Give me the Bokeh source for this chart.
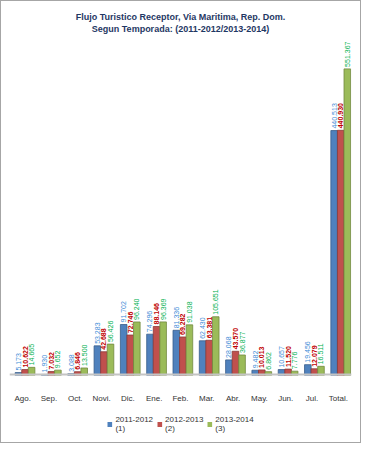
import math
from bokeh.plotting import figure
from bokeh.layouts import column
from bokeh.models import ColumnDataSource, FactorRange, Range1d, Span, Legend, LegendItem, Title
from bokeh.transform import dodge
from bokeh.core.properties import value
from bokeh.embed import file_html
from bokeh.resources import INLINE

categories = ["Ago.", "Sep.", "Oct.", "Novi.", "Dic.", "Ene.", "Feb.", "Mar.",
              "Abr.", "May.", "Jun.", "Jul.", "Total."]
season_2011 = [5173, 1930, 3088, 53283, 91702, 74296, 81336, 62430, 28068, 9482, 10657, 19456, 440513]
season_2012 = [10622, 7032, 6846, 42688, 72746, 88146, 69282, 63381, 43570, 10013, 11520, 12079, 440930]
season_2013 = [14665, 9652, 13500, 56426, 96240, 96369, 91038, 105651, 36877, 6862, 7776, 16511, 551367]
series_names = ["2011-2012\n(1)", "2012-2013\n(2)", "2013-2014\n(3)"]


def fmt(v):
    return f"{v:,}".replace(",", ".")


src = ColumnDataSource(data=dict(
    cat=categories,
    a=season_2011, b=season_2012, c=season_2013,
    la=[fmt(v) for v in season_2011],
    lb=[fmt(v) for v in season_2012],
    lc=[fmt(v) for v in season_2013],
))

xr = FactorRange(*categories, range_padding=0)
p = figure(x_range=xr, y_range=Range1d(0, 615000),
           width=359, height=404, output_backend="svg", toolbar_location=None,
           min_border_left=2, min_border_right=9, min_border_top=32, min_border_bottom=26)

p.title.text = "Flujo Turistico Receptor, Via Maritima, Rep. Dom."
p.title.align = "center"
p.title.text_font = "Liberation Sans"
p.title.text_font_size = "9px"
p.title.text_font_style = "bold"
p.title.text_color = "#1F3864"
p.title.standoff = 0
t2 = Title(text="Segun Temporada: (2011-2012/2013-2014)", align="center",
           text_font="Liberation Sans", text_font_size="9px", text_font_style="bold",
           text_color="#1F3864", standoff=0)
p.add_layout(t2, "above")

p.xgrid.visible = False
p.ygrid.visible = False
p.yaxis.visible = False
p.outline_line_color = None
p.xaxis.axis_line_color = None
p.xaxis.major_tick_line_color = None
p.xaxis.minor_tick_line_color = None
p.xaxis.major_label_text_font = "Liberation Sans"
p.xaxis.major_label_text_font_size = "8px"
p.xaxis.major_label_text_color = "#333333"
p.xaxis.major_label_standoff = 12

floor = Span(location=0, dimension="width", line_color="#c4c4c4", line_width=4)
p.add_layout(floor)

colors = ["#4F81BD", "#C0504D", "#9BBB59"]
edges = ["#385D8A", "#8C3836", "#71893F"]
label_colors = ["#3D8BD6", "#C00000", "#00B050"]
offsets = [-0.16, 0.09, 0.34]
cols = ["a", "b", "c"]
lcols = ["la", "lb", "lc"]

for i in range(3):
    p.vbar(x=dodge("cat", offsets[i], range=xr), top=cols[i], width=0.25,
           source=src, fill_color=colors[i], line_color=edges[i], line_width=0.8)
    p.text(x=dodge("cat", offsets[i], range=xr), y=cols[i], text=lcols[i], source=src,
           angle=math.pi / 2, text_align="left", text_baseline="middle", y_offset=-2,
           text_font=value("Liberation Sans"), text_font_size="7px",
           text_font_style="bold" if i == 1 else "normal",
           text_color=label_colors[i])

# legend strip below the category axis; its view sits far above the bars so none show
p2 = figure(x_range=xr, y_range=Range1d(1e7, 1e7 + 1), width=359, height=37,
            output_backend="svg", toolbar_location=None,
            min_border_left=8, min_border_right=1, min_border_top=0, min_border_bottom=0)
p2.xaxis.visible = False
p2.yaxis.visible = False
p2.xgrid.visible = False
p2.ygrid.visible = False
p2.outline_line_color = None
legend_renderers = [p2.vbar(x=dodge("cat", offsets[i], range=xr), top=cols[i], width=0.25,
                            source=src, fill_color=colors[i], line_color=None)
                    for i in range(3)]
legend = Legend(items=[LegendItem(label=series_names[i], renderers=[legend_renderers[i]]) for i in range(3)],
                orientation="horizontal", location="center",
                label_text_font="Liberation Sans", label_text_font_size="8px",
                label_text_color="#333333", glyph_width=6, glyph_height=6,
                label_standoff=3, spacing=3, padding=2, margin=0,
                border_line_color=None, background_fill_alpha=0)
p2.add_layout(legend)

layout = column(p, p2, spacing=0, styles={"border": "1px solid #a6a6a6"})
open("out.html", "w").write(file_html(layout, INLINE))
